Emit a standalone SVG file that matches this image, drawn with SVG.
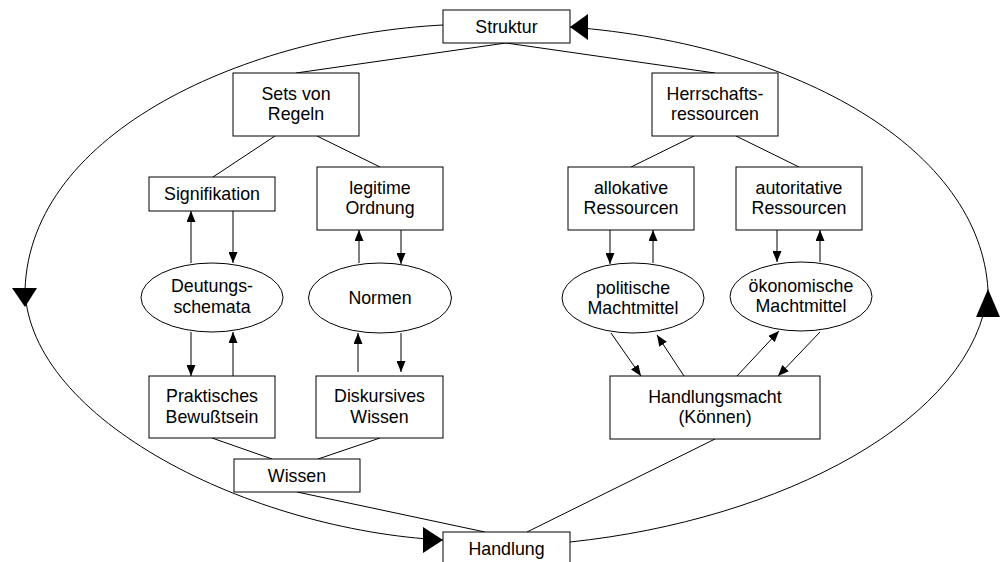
<svg xmlns="http://www.w3.org/2000/svg" width="1000" height="562" viewBox="0 0 1000 562">
  <defs>
    <marker id="head" markerUnits="userSpaceOnUse" markerWidth="11" markerHeight="9" refX="11" refY="4.5" orient="auto">
      <path d="M0,0 L11,4.5 L0,9 z" fill="#000"/>
    </marker>
    <style>
      .box { fill: #fff; stroke: #000; stroke-width: 1; }
      .oval { fill: #fff; stroke: #000; stroke-width: 1; }
      .lbl { font-family: "Liberation Sans", Arial, sans-serif; font-size: 17.8px; fill: #000; text-anchor: middle; }
      .line { fill: none; stroke: #000; stroke-width: 1; }
      .arr { fill: none; stroke: #000; stroke-width: 1; marker-end: url(#head); }
      .big { fill: #000; stroke: none; }
    </style>
  </defs>
  <rect width="1000" height="562" fill="#fff"/>

  <!-- connectors -->
  <g id="connectors">
    <!-- outer cycle Struktur / Handlung -->
    <path class="line" d="M443,25 C250,35 30,130 25,290 C30,420 250,530 443,540"/>
    <path class="line" d="M570,542 C780,520 975,420 988,290 C980,150 800,45 570,27"/>
    <polygon class="big" points="12,288 37,288 25,307"/>
    <polygon class="big" points="423,527 423,553 443,540"/>
    <polygon class="big" points="976,317 1000,317 988,289"/>
    <polygon class="big" points="588,14 588,40 570,27"/>

    <!-- tree lines -->
    <line class="line" x1="506" y1="43" x2="296" y2="73"/>
    <line class="line" x1="506" y1="43" x2="715" y2="73"/>
    <line class="line" x1="275" y1="136" x2="213" y2="177"/>
    <line class="line" x1="317" y1="136" x2="380" y2="167"/>
    <line class="line" x1="694" y1="136" x2="631" y2="167"/>
    <line class="line" x1="736" y1="136" x2="799" y2="167"/>
    <line class="line" x1="212" y1="438" x2="272" y2="459"/>
    <line class="line" x1="380" y1="438" x2="318" y2="459"/>
    <line class="line" x1="297" y1="492" x2="485" y2="532"/>
    <line class="line" x1="715" y1="439" x2="527" y2="532"/>

    <!-- arrows upper row -->
    <line class="arr" x1="191" y1="263" x2="191" y2="211"/>
    <line class="arr" x1="233" y1="211" x2="233" y2="263"/>
    <line class="arr" x1="359" y1="263" x2="359" y2="230"/>
    <line class="arr" x1="401" y1="230" x2="401" y2="264"/>
    <line class="arr" x1="610" y1="230" x2="610" y2="264"/>
    <line class="arr" x1="653" y1="263" x2="653" y2="230"/>
    <line class="arr" x1="777" y1="230" x2="777" y2="262"/>
    <line class="arr" x1="820" y1="262" x2="820" y2="230"/>

    <!-- arrows lower row -->
    <line class="arr" x1="191" y1="332" x2="191" y2="376"/>
    <line class="arr" x1="233" y1="376" x2="233" y2="332"/>
    <line class="arr" x1="358" y1="372" x2="358" y2="333"/>
    <line class="arr" x1="401" y1="333" x2="401" y2="372"/>
    <line class="arr" x1="611" y1="333" x2="641" y2="376"/>
    <line class="arr" x1="684" y1="376" x2="657" y2="335"/>
    <line class="arr" x1="737" y1="376" x2="779" y2="331"/>
    <line class="arr" x1="820" y1="332" x2="778" y2="376"/>
  </g>

  <g id="struktur">
    <rect class="box" x="443" y="10" width="127" height="33"/>
    <text class="lbl" x="506.5" y="32.5">Struktur</text>
  </g>
  <g id="sets-von-regeln">
    <rect class="box" x="233" y="73" width="126" height="63"/>
    <text class="lbl" x="296" y="99.5">Sets von</text>
    <text class="lbl" x="296" y="119.5">Regeln</text>
  </g>
  <g id="herrschaftsressourcen">
    <rect class="box" x="652" y="73" width="126" height="63"/>
    <text class="lbl" x="715" y="99.5">Herrschafts-</text>
    <text class="lbl" x="715" y="119.5">ressourcen</text>
  </g>
  <g id="signifikation">
    <rect class="box" x="149" y="177" width="126" height="34"/>
    <text class="lbl" x="212" y="200">Signifikation</text>
  </g>
  <g id="legitime-ordnung">
    <rect class="box" x="317" y="167" width="126" height="63"/>
    <text class="lbl" x="380" y="193.5">legitime</text>
    <text class="lbl" x="380" y="213.5">Ordnung</text>
  </g>
  <g id="allokative-ressourcen">
    <rect class="box" x="568" y="167" width="126" height="63"/>
    <text class="lbl" x="631" y="193.5">allokative</text>
    <text class="lbl" x="631" y="213.5">Ressourcen</text>
  </g>
  <g id="autoritative-ressourcen">
    <rect class="box" x="736" y="167" width="126" height="63"/>
    <text class="lbl" x="799" y="193.5">autoritative</text>
    <text class="lbl" x="799" y="213.5">Ressourcen</text>
  </g>

  <g id="deutungsschemata">
    <ellipse class="oval" cx="212" cy="297.5" rx="71" ry="34.5"/>
    <text class="lbl" x="212" y="291.5">Deutungs-</text>
    <text class="lbl" x="212" y="312.5">schemata</text>
  </g>
  <g id="normen">
    <ellipse class="oval" cx="380" cy="298" rx="71.5" ry="35"/>
    <text class="lbl" x="380" y="304">Normen</text>
  </g>
  <g id="politische-machtmittel">
    <ellipse class="oval" cx="633" cy="298" rx="71" ry="35"/>
    <text class="lbl" x="633" y="293.5">politische</text>
    <text class="lbl" x="633" y="313.5">Machtmittel</text>
  </g>
  <g id="oekonomische-machtmittel">
    <ellipse class="oval" cx="801" cy="296.5" rx="71" ry="34.5"/>
    <text class="lbl" x="801" y="292">ökonomische</text>
    <text class="lbl" x="801" y="312">Machtmittel</text>
  </g>

  <g id="praktisches-bewusstsein">
    <rect class="box" x="149" y="376" width="126" height="62"/>
    <text class="lbl" x="212" y="402">Praktisches</text>
    <text class="lbl" x="212" y="422.5">Bewußtsein</text>
  </g>
  <g id="diskursives-wissen">
    <rect class="box" x="316" y="376" width="127" height="62"/>
    <text class="lbl" x="379.5" y="402">Diskursives</text>
    <text class="lbl" x="379.5" y="422.5">Wissen</text>
  </g>
  <g id="handlungsmacht">
    <rect class="box" x="610" y="376" width="210" height="63"/>
    <text class="lbl" x="715" y="402.5">Handlungsmacht</text>
    <text class="lbl" x="715" y="422.5">(Können)</text>
  </g>
  <g id="wissen">
    <rect class="box" x="234" y="459" width="126" height="33"/>
    <text class="lbl" x="297" y="482">Wissen</text>
  </g>
  <g id="handlung">
    <rect class="box" x="443" y="532" width="127" height="34"/>
    <text class="lbl" x="506.5" y="554.5">Handlung</text>
  </g>
</svg>
